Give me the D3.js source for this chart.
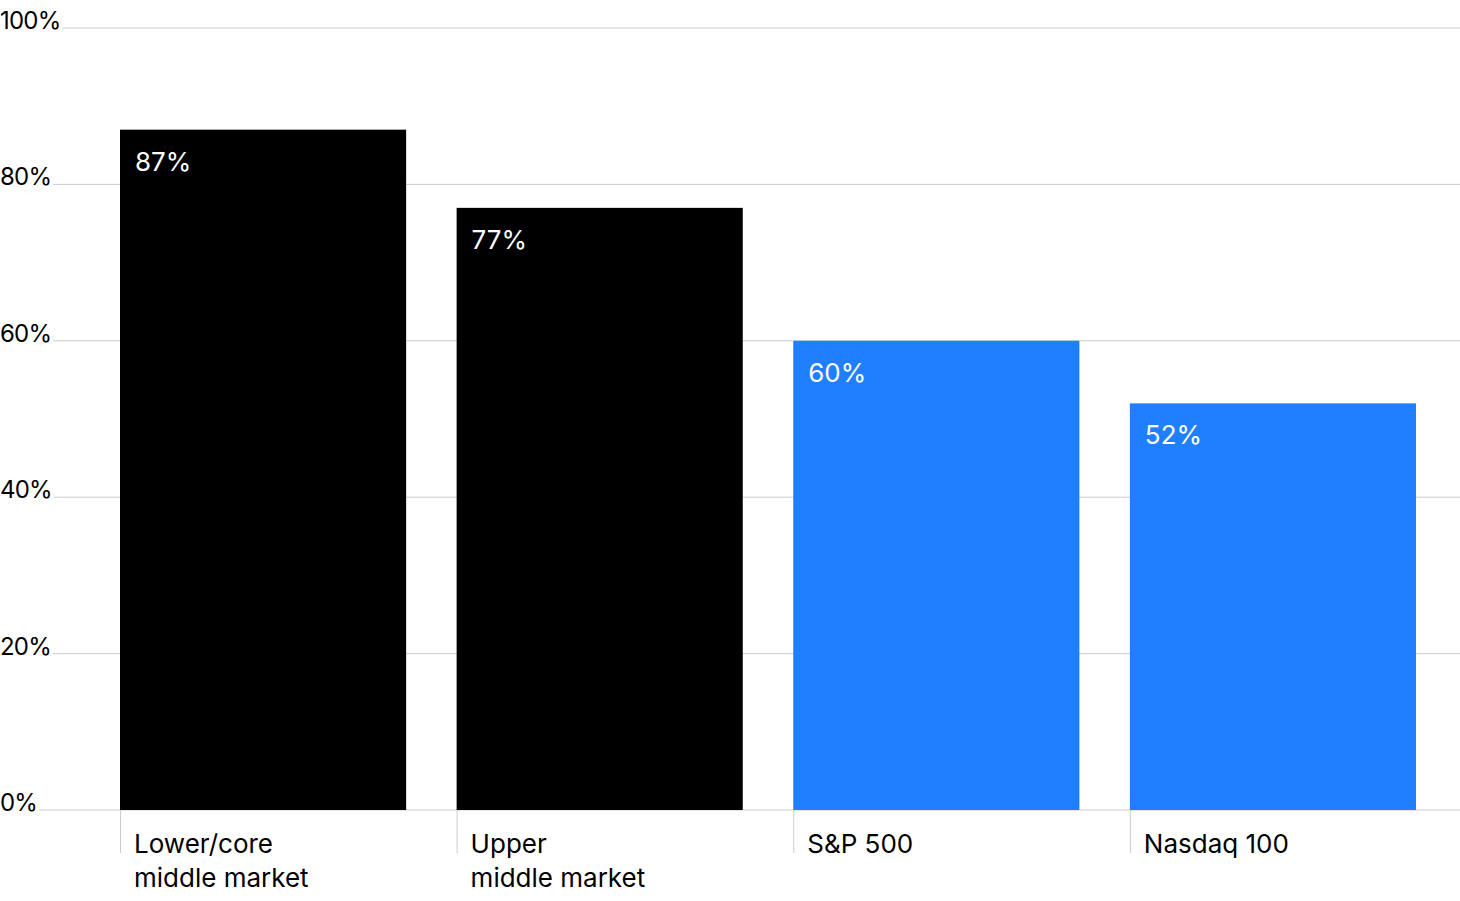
<!DOCTYPE html>
<html>
<head>
<meta charset="utf-8">
<script src="https://cdn.jsdelivr.net/npm/d3@7"></script>
<style>
  body { margin: 0; background: #fff; }
  text { font-family: Inter, "Noto Sans", sans-serif; }
</style>
</head>
<body>
<svg id="chart"></svg>
<script>
	var categories = [['Lower/core', 'middle market'], ['Upper', 'middle market'], ['S&P 500'], ['Nasdaq 100']];
	var values = [87, 77, 60, 52];
	var colors = ['#000000', '#000000', '#1f7fff', '#1f7fff'];
	var yTicks = [0, 20, 40, 60, 80, 100];

	var width = 1460, height = 901;
	var svg = d3.select('#chart').attr('width', width).attr('height', height);

	var x = d3.scaleBand()
		.domain(d3.range(values.length))
		.range([120, 1416])
		.paddingInner(0.15)
		.paddingOuter(0);
	var y = d3.scaleLinear().domain([0, 100]).range([810, 28]);

	// gridlines + y labels
	var grid = svg.append('g');
	yTicks.forEach(t => {
		var label = grid.append('text')
			.attr('x', 0).attr('y', y(t) + 1)
			.attr('font-size', 24).attr('fill', '#000')
			.attr('letter-spacing', -0.8)
			.text(t + '%');
		var w = label.node().getBBox().width;
		grid.append('line')
			.attr('x1', w + 2).attr('x2', width)
			.attr('y1', y(t)).attr('y2', y(t))
			.attr('stroke', '#cccccc').attr('stroke-width', 1);
	});

	// category tick lines
	svg.selectAll('.tick-line')
		.data(values)
		.enter().append('line')
		.attr('x1', (d, i) => x(i) + 0.5).attr('x2', (d, i) => x(i) + 0.5)
		.attr('y1', y(0)).attr('y2', 853)
		.attr('stroke', '#cccccc');

	// bars
	svg.selectAll('.bar')
		.data(values)
		.enter().append('rect')
		.attr('x', (d, i) => x(i))
		.attr('y', d => y(d))
		.attr('width', x.bandwidth())
		.attr('height', d => y(0) - y(d))
		.attr('fill', (d, i) => colors[i]);

	// value labels
	svg.selectAll('.val')
		.data(values)
		.enter().append('text')
		.attr('x', (d, i) => x(i) + 15)
		.attr('y', d => y(d) + 41)
		.attr('font-size', 26).attr('fill', '#fff')
		.text(d => d + '%');

	// category labels
	categories.forEach((lines, i) => {
		var t = svg.append('text')
			.attr('x', x(i) + 14).attr('y', 853)
			.attr('font-size', 26).attr('fill', '#000');
		lines.forEach((l, j) => {
			t.append('tspan').attr('x', x(i) + 14).attr('dy', j ? 34 : 0).text(l);
		});
	});
</script>
</body>
</html>
